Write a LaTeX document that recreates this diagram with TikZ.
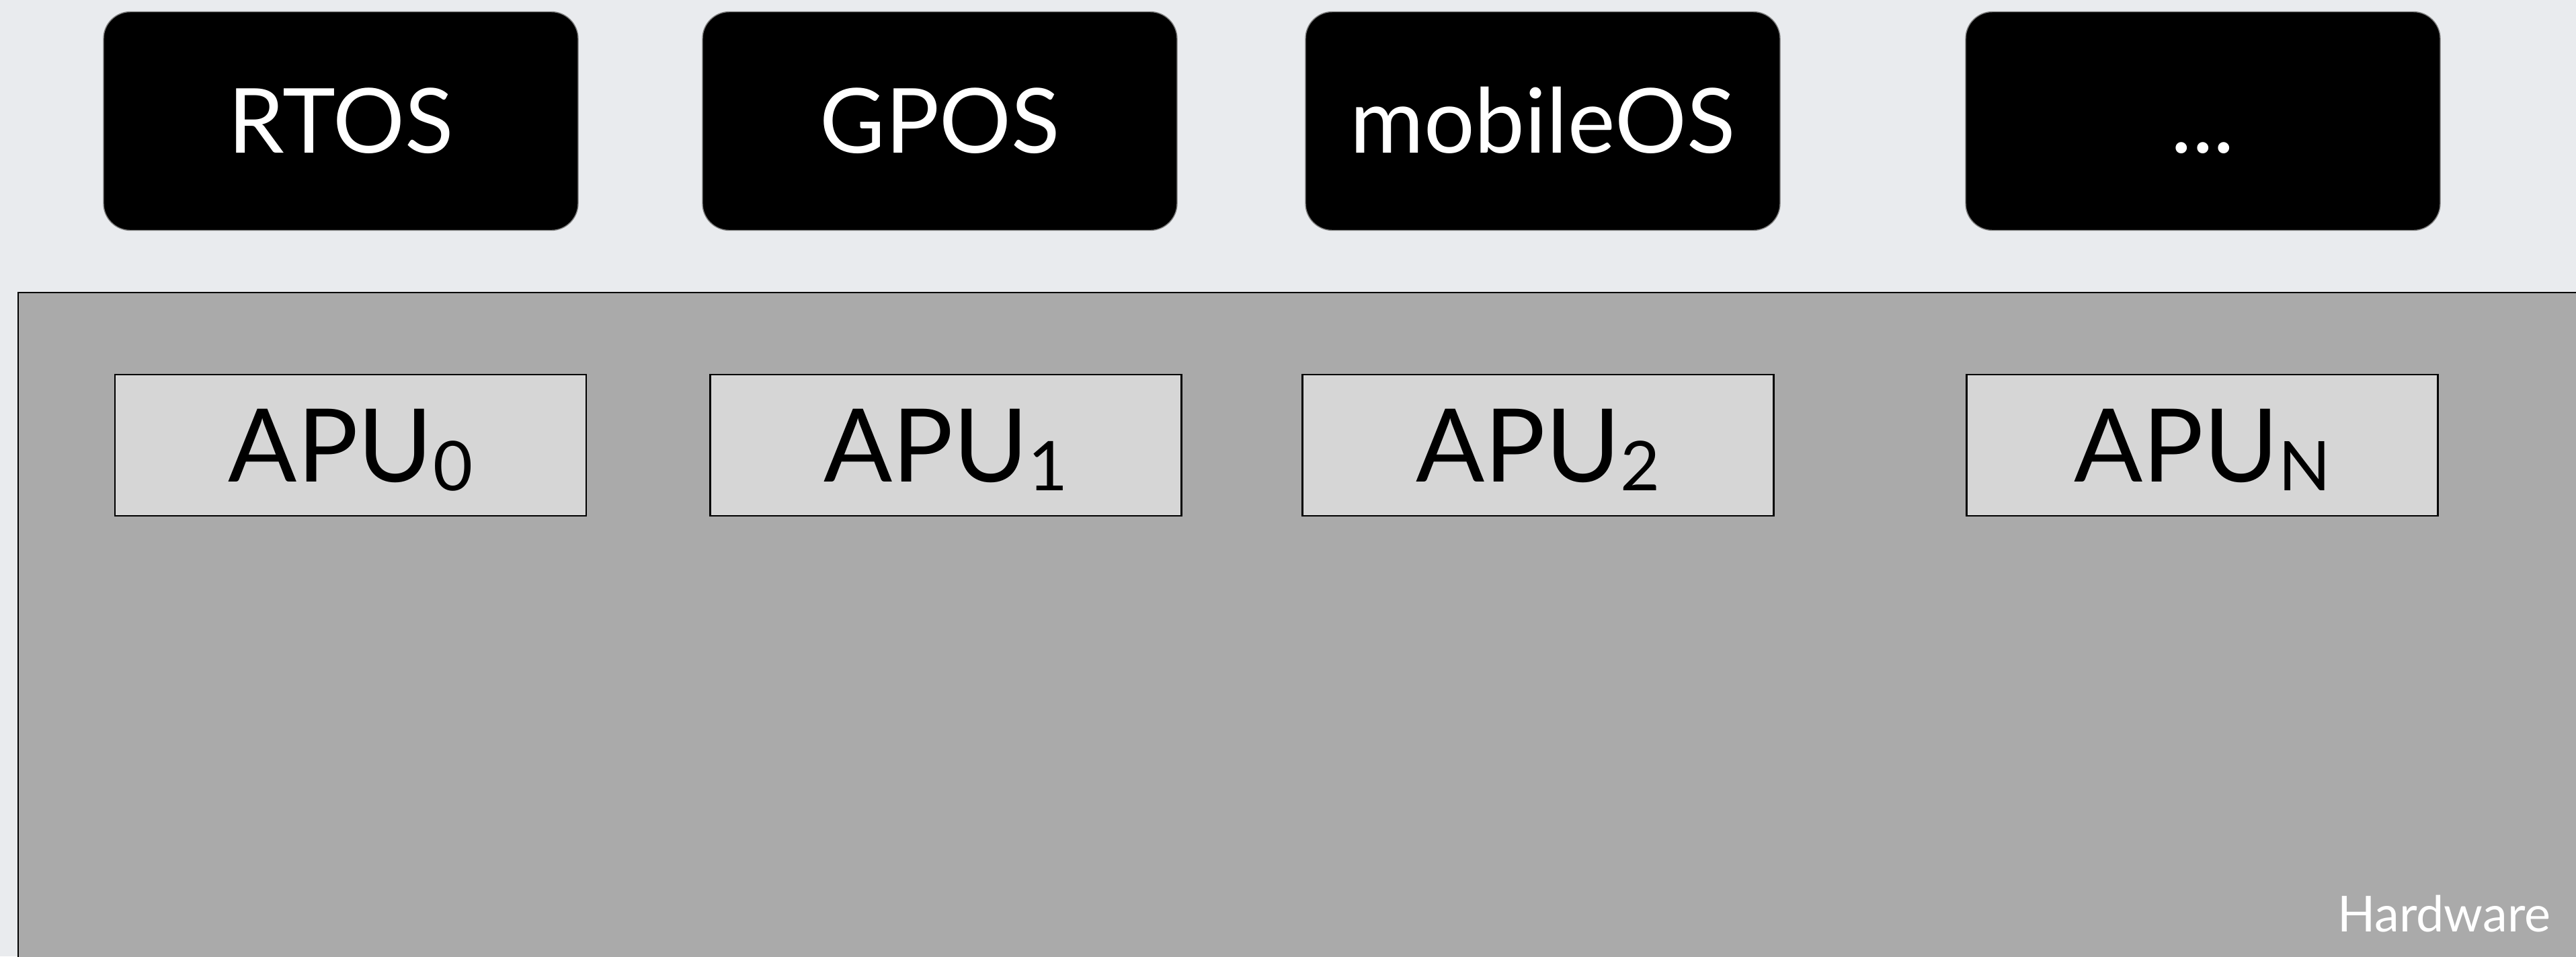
\documentclass[tikz,border=0pt]{standalone}
\usepackage{fontspec}
\setmainfont{Lato}
\definecolor{bgcol}{HTML}{E9EBEE}
\definecolor{hwgray}{HTML}{AAAAAA}
\definecolor{apugray}{HTML}{D6D6D6}
\newcommand{\apusub}[1]{\raisebox{-3.6pt}{\fontsize{29}{30}\selectfont #1}}

\begin{document}
\begin{tikzpicture}[
    osbox/.style={fill=black,draw=gray,rounded corners=0.4cm,minimum width=7.06cm,minimum height=3.25cm,text height=27pt,text depth=0pt,text=white,font=\fontsize{38}{42}\selectfont},
    apubox/.style={fill=apugray,draw=black,line width=0.8pt,minimum width=7.01cm,minimum height=2.1cm,text height=31pt,text depth=0pt,font=\fontsize{43}{48}\selectfont}]
        \useasboundingbox (0,0) rectangle (38.32,-14.22);
        \clip (0,0) rectangle (38.32,-14.22);
        \fill[bgcol] (0,0) rectangle (38.32,-14.22);
        \draw[fill=hwgray,line width=0.8pt] (0.27,-4.35) rectangle (39,-15);
        \node[osbox] (rtos) at (5.07,-1.8) {RTOS};
        \node[osbox] (gpos) at (13.98,-1.8) {GPOS};
        \node[osbox] (mobile) at (22.95,-1.8) {mobileOS};
        \node[osbox] (more) at (32.77,-1.8) {...};
        \node[apubox] (apu0) at (5.215,-6.62) {APU\apusub{0}};
        \node[apubox] (apu1) at (14.07,-6.62) {APU\apusub{1}};
        \node[apubox] (apu2) at (22.88,-6.62) {APU\apusub{2}};
        \node[apubox] (apun) at (32.76,-6.62) {APU\apusub{N}};
        \node[anchor=base east,text=white,font=\fontsize{21}{24}\selectfont,inner sep=0pt] (hw) at (37.95,-13.85) {Hardware};
    \end{tikzpicture}
\end{document}
